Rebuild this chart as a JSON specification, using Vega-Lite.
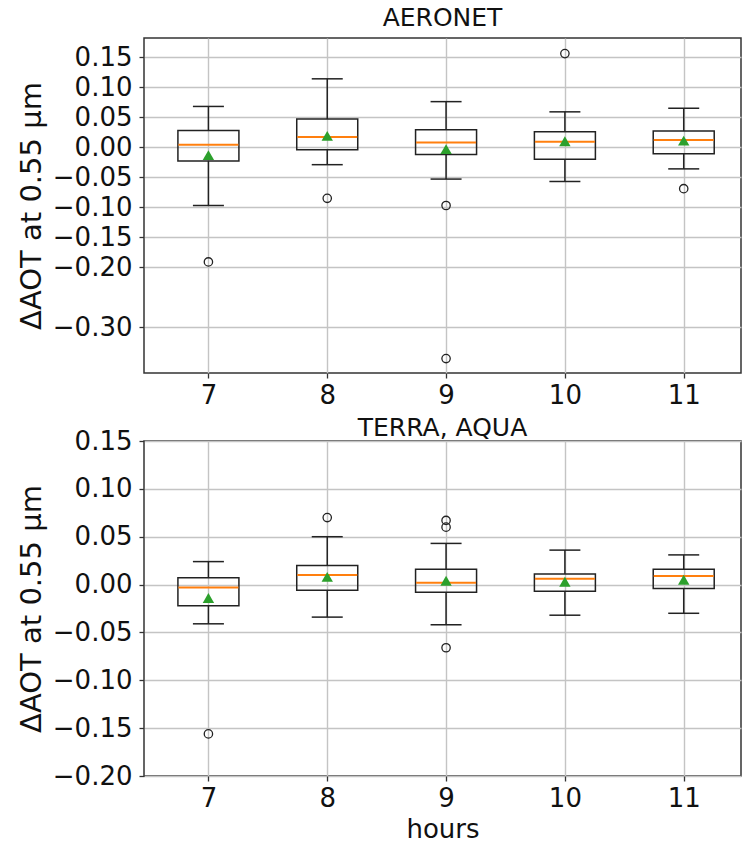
{
  "$schema": "https://vega.github.io/schema/vega-lite/v6.json",
  "background": "white",
  "padding": {"left": 16, "top": 5, "right": 0, "bottom": 0},
  "spacing": 68,
  "bounds": "flush",
  "config": {
    "font": "DejaVu Sans",
    "view": {"stroke": "#333333", "strokeWidth": 1.5},
    "axis": {
      "grid": true,
      "gridColor": "#c4c4c4",
      "gridWidth": 1.4,
      "domain": false,
      "tickColor": "#333333",
      "tickSize": 5,
      "tickWidth": 1.3,
      "labelFontSize": 26,
      "labelColor": "#111111",
      "labelPadding": 7,
      "titleFontSize": 29,
      "titleFontWeight": "normal",
      "titleColor": "#111111"
    },
    "axisX": {"labelPadding": 4},
    "title": {"fontSize": 25, "fontWeight": "normal", "color": "#111111", "offset": 7}
  },
  "datasets": {
    "aeronet_box": [
      {"hour": 7, "whisker_low": -0.097, "q1": -0.023, "median": 0.004, "q3": 0.028, "whisker_high": 0.068, "mean": -0.013},
      {"hour": 8, "whisker_low": -0.029, "q1": -0.004, "median": 0.017, "q3": 0.047, "whisker_high": 0.114, "mean": 0.019},
      {"hour": 9, "whisker_low": -0.053, "q1": -0.012, "median": 0.008, "q3": 0.029, "whisker_high": 0.076, "mean": -0.003},
      {"hour": 10, "whisker_low": -0.057, "q1": -0.020, "median": 0.009, "q3": 0.026, "whisker_high": 0.059, "mean": 0.010},
      {"hour": 11, "whisker_low": -0.036, "q1": -0.011, "median": 0.012, "q3": 0.027, "whisker_high": 0.065, "mean": 0.011}
    ],
    "aeronet_outliers": [
      {"hour": 7, "value": -0.191},
      {"hour": 8, "value": -0.085},
      {"hour": 9, "value": -0.097},
      {"hour": 9, "value": -0.352},
      {"hour": 10, "value": 0.156},
      {"hour": 11, "value": -0.069}
    ],
    "modis_box": [
      {"hour": 7, "whisker_low": -0.041, "q1": -0.022, "median": -0.003, "q3": 0.007, "whisker_high": 0.024, "mean": -0.014},
      {"hour": 8, "whisker_low": -0.034, "q1": -0.006, "median": 0.010, "q3": 0.020, "whisker_high": 0.050, "mean": 0.008},
      {"hour": 9, "whisker_low": -0.042, "q1": -0.008, "median": 0.002, "q3": 0.016, "whisker_high": 0.043, "mean": 0.004},
      {"hour": 10, "whisker_low": -0.032, "q1": -0.007, "median": 0.006, "q3": 0.011, "whisker_high": 0.036, "mean": 0.003},
      {"hour": 11, "whisker_low": -0.030, "q1": -0.004, "median": 0.009, "q3": 0.016, "whisker_high": 0.031, "mean": 0.005}
    ],
    "modis_outliers": [
      {"hour": 7, "value": -0.156},
      {"hour": 8, "value": 0.070},
      {"hour": 9, "value": 0.067},
      {"hour": 9, "value": 0.060},
      {"hour": 9, "value": -0.066}
    ]
  },
  "vconcat": [
    {
      "title": "AERONET",
      "width": 597,
      "height": 335,
      "layer": [
        {
          "data": {"name": "aeronet_box"},
          "mark": {"type": "rule", "color": "#222222", "strokeWidth": 1.5},
          "encoding": {
            "x": {"field": "hour", "type": "quantitative", "scale": {"domain": [6.5, 11.44], "nice": false, "zero": false},
                  "axis": {"values": [7, 8, 9, 10, 11], "format": "d", "title": null}},
            "y": {"field": "q3", "type": "quantitative",
                  "scale": {"domain": [-0.376, 0.182], "nice": false, "zero": false},
                  "axis": {"values": [-0.3, -0.2, -0.15, -0.1, -0.05, 0, 0.05, 0.1, 0.15], "format": ".2f", "title": "ΔAOT at 0.55 μm", "titlePadding": 6}},
            "y2": {"field": "whisker_high"}
          }
        },
        {
          "data": {"name": "aeronet_box"},
          "mark": {"type": "rule", "color": "#222222", "strokeWidth": 1.5},
          "encoding": {
            "x": {"field": "hour", "type": "quantitative"},
            "y": {"field": "whisker_low", "type": "quantitative"},
            "y2": {"field": "q1"}
          }
        },
        {
          "data": {"name": "aeronet_box"},
          "mark": {"type": "tick", "orient": "horizontal", "color": "#222222", "size": 31, "thickness": 1.5, "opacity": 1},
          "encoding": {
            "x": {"field": "hour", "type": "quantitative"},
            "y": {"field": "whisker_high", "type": "quantitative"}
          }
        },
        {
          "data": {"name": "aeronet_box"},
          "mark": {"type": "tick", "orient": "horizontal", "color": "#222222", "size": 31, "thickness": 1.5, "opacity": 1},
          "encoding": {
            "x": {"field": "hour", "type": "quantitative"},
            "y": {"field": "whisker_low", "type": "quantitative"}
          }
        },
        {
          "data": {"name": "aeronet_box"},
          "mark": {"type": "bar", "size": 61, "fill": null, "fillOpacity": 0, "stroke": "#222222", "strokeWidth": 1.5},
          "encoding": {
            "x": {"field": "hour", "type": "quantitative"},
            "y": {"field": "q1", "type": "quantitative"},
            "y2": {"field": "q3"}
          }
        },
        {
          "data": {"name": "aeronet_box"},
          "mark": {"type": "tick", "orient": "horizontal", "color": "#ff7f0e", "size": 60, "thickness": 2, "opacity": 1},
          "encoding": {
            "x": {"field": "hour", "type": "quantitative"},
            "y": {"field": "median", "type": "quantitative"}
          }
        },
        {
          "data": {"name": "aeronet_box"},
          "mark": {"type": "point", "shape": "triangle-up", "filled": true, "color": "#2ca02c", "size": 130, "opacity": 1},
          "encoding": {
            "x": {"field": "hour", "type": "quantitative"},
            "y": {"field": "mean", "type": "quantitative"}
          }
        },
        {
          "data": {"name": "aeronet_outliers"},
          "mark": {"type": "point", "shape": "circle", "filled": false, "stroke": "#222222", "strokeWidth": 1.3, "size": 70, "opacity": 1},
          "encoding": {
            "x": {"field": "hour", "type": "quantitative"},
            "y": {"field": "value", "type": "quantitative"}
          }
        }
      ]
    },
    {
      "title": {"text": "TERRA, AQUA", "offset": -13},
      "width": 597,
      "height": 335,
      "layer": [
        {
          "data": {"name": "modis_box"},
          "mark": {"type": "rule", "color": "#222222", "strokeWidth": 1.5},
          "encoding": {
            "x": {"field": "hour", "type": "quantitative", "scale": {"domain": [6.5, 11.44], "nice": false, "zero": false},
                  "axis": {"values": [7, 8, 9, 10, 11], "format": "d", "title": "hours", "titlePadding": 5, "titleFontSize": 26}},
            "y": {"field": "q3", "type": "quantitative",
                  "scale": {"domain": [-0.2, 0.15], "nice": false, "zero": false},
                  "axis": {"values": [-0.2, -0.15, -0.1, -0.05, 0, 0.05, 0.1, 0.15], "format": ".2f", "title": "ΔAOT at 0.55 μm", "titlePadding": 6}},
            "y2": {"field": "whisker_high"}
          }
        },
        {
          "data": {"name": "modis_box"},
          "mark": {"type": "rule", "color": "#222222", "strokeWidth": 1.5},
          "encoding": {
            "x": {"field": "hour", "type": "quantitative"},
            "y": {"field": "whisker_low", "type": "quantitative"},
            "y2": {"field": "q1"}
          }
        },
        {
          "data": {"name": "modis_box"},
          "mark": {"type": "tick", "orient": "horizontal", "color": "#222222", "size": 31, "thickness": 1.5, "opacity": 1},
          "encoding": {
            "x": {"field": "hour", "type": "quantitative"},
            "y": {"field": "whisker_high", "type": "quantitative"}
          }
        },
        {
          "data": {"name": "modis_box"},
          "mark": {"type": "tick", "orient": "horizontal", "color": "#222222", "size": 31, "thickness": 1.5, "opacity": 1},
          "encoding": {
            "x": {"field": "hour", "type": "quantitative"},
            "y": {"field": "whisker_low", "type": "quantitative"}
          }
        },
        {
          "data": {"name": "modis_box"},
          "mark": {"type": "bar", "size": 61, "fill": null, "fillOpacity": 0, "stroke": "#222222", "strokeWidth": 1.5},
          "encoding": {
            "x": {"field": "hour", "type": "quantitative"},
            "y": {"field": "q1", "type": "quantitative"},
            "y2": {"field": "q3"}
          }
        },
        {
          "data": {"name": "modis_box"},
          "mark": {"type": "tick", "orient": "horizontal", "color": "#ff7f0e", "size": 60, "thickness": 2, "opacity": 1},
          "encoding": {
            "x": {"field": "hour", "type": "quantitative"},
            "y": {"field": "median", "type": "quantitative"}
          }
        },
        {
          "data": {"name": "modis_box"},
          "mark": {"type": "point", "shape": "triangle-up", "filled": true, "color": "#2ca02c", "size": 130, "opacity": 1},
          "encoding": {
            "x": {"field": "hour", "type": "quantitative"},
            "y": {"field": "mean", "type": "quantitative"}
          }
        },
        {
          "data": {"name": "modis_outliers"},
          "mark": {"type": "point", "shape": "circle", "filled": false, "stroke": "#222222", "strokeWidth": 1.3, "size": 70, "opacity": 1},
          "encoding": {
            "x": {"field": "hour", "type": "quantitative"},
            "y": {"field": "value", "type": "quantitative"}
          }
        }
      ]
    }
  ]
}
